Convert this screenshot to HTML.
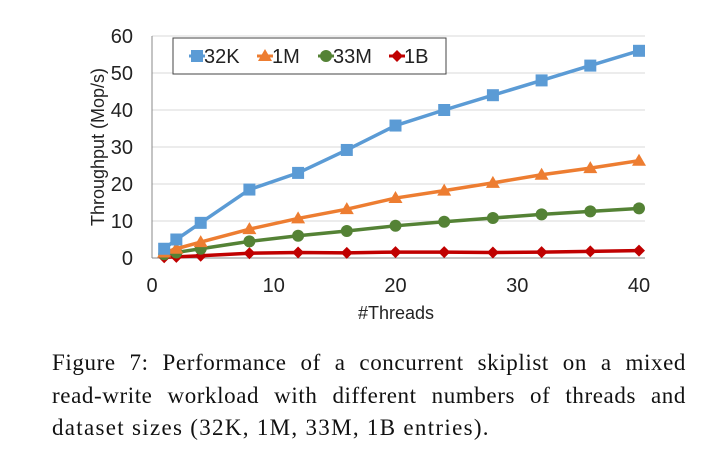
<!DOCTYPE html>
<html><head><meta charset="utf-8"><style>
body{margin:0;background:#fff;width:707px;height:452px;overflow:hidden;position:relative}
svg{position:absolute;left:0;top:0}
.cap{position:absolute;left:52px;top:347px;width:634px;font-family:"Liberation Serif",serif;font-size:23px;letter-spacing:1.3px;line-height:32.5px;color:#111}
.cap div{white-space:nowrap}
.j{text-align:justify;text-align-last:justify;letter-spacing:0.6px}
</style></head><body>
<svg id="chart" width="707" height="340"></svg>
<div class="cap"><div class="j">Figure 7: Performance of a concurrent skiplist on a mixed</div><div class="j">read-write workload with different numbers of threads and</div><div>dataset sizes (32K, 1M, 33M, 1B entries).</div></div>
<script>
const threads=[1,2,4,8,12,16,20,24,28,32,36,40];
const s32K=[2.5,5,9.5,18.5,23,29.2,35.8,40,44,48,52,56];
const s1M=[1.5,2.5,4.3,7.8,10.7,13.2,16.2,18.2,20.3,22.5,24.3,26.3];
const s33M=[1,1.5,2.5,4.5,6,7.3,8.7,9.8,10.8,11.8,12.6,13.4];
const s1B=[0.2,0.3,0.6,1.3,1.5,1.4,1.6,1.6,1.5,1.6,1.8,2.0];
const yTicks=[0,10,20,30,40,50,60];
const xTicks=[0,10,20,30,40];
const NS="http://www.w3.org/2000/svg";
const svg=document.getElementById('chart');
const X=v=>152+v*(639-152)/40, Y=v=>258-v*(258-36)/60;
function mk(t,a,p){const e=document.createElementNS(NS,t);for(const k in a)e.setAttribute(k,a[k]);(p||svg).appendChild(e);return e;}
const F='"Liberation Sans",sans-serif';
yTicks.forEach(t=>{
 if(t>0){const g=mk('line',{x1:152,x2:645,y1:Y(t),y2:Y(t),stroke:'#d9d9d9','stroke-width':1});
 
 }
 const l=mk('text',{x:133,y:Y(t)+7,'text-anchor':'end','font-family':F,'font-size':20,fill:'#222'});l.textContent=t;
 
 
});
xTicks.forEach(t=>{const l=mk('text',{x:X(t),y:292,'text-anchor':'middle','font-family':F,'font-size':20,fill:'#222'});l.textContent=t;
 
 });
const ax=mk('line',{x1:152,x2:152,y1:36,y2:258,stroke:'#888'});
const bx=mk('line',{x1:152,x2:645,y1:258,y2:258,stroke:'#888'});
const xt=mk('text',{x:396,y:319,'text-anchor':'middle','font-family':F,'font-size':18,fill:'#222'});xt.textContent='#Threads';

const yt=mk('text',{x:0,y:0,transform:'translate(104,147) rotate(-90)','text-anchor':'middle','font-family':F,'font-size':18,fill:'#222'});yt.textContent='Throughput (Mop/s)';

function marker(type,x,y,c,p){
 if(type==='sq')return mk('rect',{x:x-6,y:y-6,width:12,height:12,fill:c},p);
 if(type==='tri')return mk('polygon',{points:`${x},${y-7} ${x+7},${y+5} ${x-7},${y+5}`,fill:c},p);
 if(type==='circ')return mk('circle',{cx:x,cy:y,r:6,fill:c},p);
 return mk('polygon',{points:`${x},${y-6} ${x+6},${y} ${x},${y+6} ${x-6},${y}`,fill:c},p);
}
const series=[['32K',s32K,'#5b9bd5','sq'],['1M',s1M,'#ed7d31','tri'],['33M',s33M,'#548235','circ'],['1B',s1B,'#c00000','dia']];
series.slice().reverse().forEach(([n,d,c,m])=>{
 const g=mk('g',{});
 const pl=mk('polyline',{points:d.map((v,i)=>X(threads[i])+','+Y(v)).join(' '),fill:'none',stroke:c,'stroke-width':3.5,'stroke-linejoin':'round'},g);
 
 d.forEach((v,i)=>{const e=marker(m,X(threads[i]),Y(v),c,g);
 
 });
});
const lg=mk('g',{});
mk('rect',{x:173,y:38,width:273,height:36,fill:'#fff',stroke:'#444'},lg);
series.forEach(([n,d,c,m],i)=>{
 const e=mk('g',{},lg);
 const lx=[197,265,326,397][i];
 mk('line',{x1:lx-8,x2:lx+8,y1:56,y2:56,stroke:c,'stroke-width':3},e);
 marker(m,lx,56,c,e);
 const t=mk('text',{x:lx+7,y:63,'font-family':F,'font-size':20,fill:'#222'},e);t.textContent=n;
});
</script>
</body></html>
